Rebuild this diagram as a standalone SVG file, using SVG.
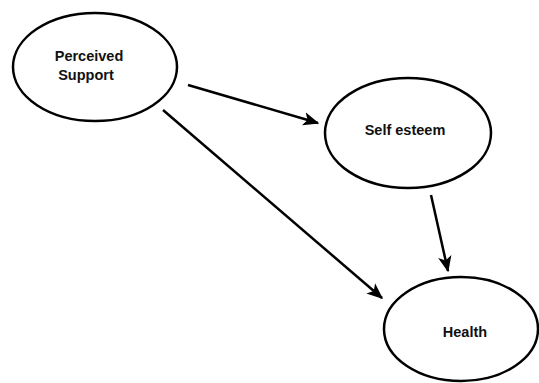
<svg xmlns="http://www.w3.org/2000/svg" width="539" height="383" viewBox="0 0 539 383">
<style>
.node{fill:#fff;stroke:#000;stroke-width:2.5}
.lbl{font-family:"Liberation Sans",Arial,sans-serif;font-size:14.5px;font-weight:bold;fill:#111;text-anchor:middle}
.edge{stroke:#000;stroke-width:2.5;fill:none}
</style>
<defs>
<marker id="ah" viewBox="0 0 12 10" refX="11" refY="5" markerWidth="6.5" markerHeight="5.5" orient="auto" markerUnits="strokeWidth">
<path d="M0,0 L12,5 L0,10 L3,5 Z" fill="#000"/>
</marker>
</defs>
<rect width="539" height="383" fill="#fff"/>
<g id="edges">
<line class="edge" x1="188" y1="85" x2="318" y2="123" marker-end="url(#ah)"/>
<line class="edge" x1="163" y1="110" x2="382" y2="298" marker-end="url(#ah)"/>
<line class="edge" x1="431" y1="195" x2="448" y2="271" marker-end="url(#ah)"/>
</g>
<g id="perceived-support">
<ellipse class="node" cx="95" cy="67" rx="82" ry="54"/>
<text class="lbl" x="89" y="61">Perceived</text>
<text class="lbl" x="86" y="80">Support</text>
</g>
<g id="self-esteem">
<ellipse class="node" cx="408" cy="133" rx="83" ry="55"/>
<text class="lbl" x="405" y="135">Self esteem</text>
</g>
<g id="health">
<ellipse class="node" cx="461" cy="329" rx="77" ry="52"/>
<text class="lbl" x="465" y="337">Health</text>
</g>
</svg>
